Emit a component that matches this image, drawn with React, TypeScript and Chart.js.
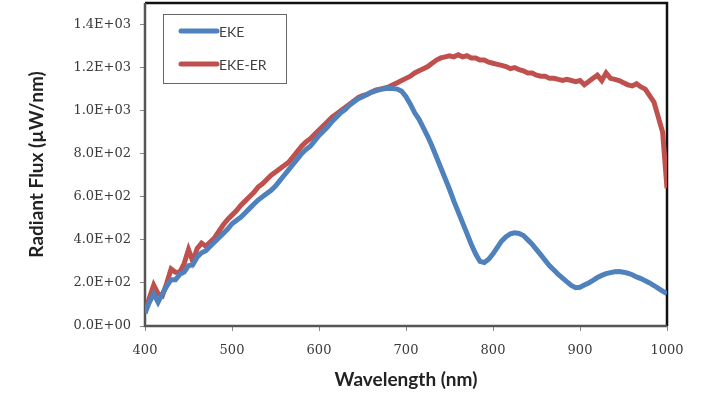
import React, { useEffect, useRef } from "react";
import { Chart, registerables } from "chart.js";

Chart.register(...registerables);

const wavelengths: number[] = [];
for (let w = 400; w <= 1000; w += 5) wavelengths.push(w);

const ekeValues = [
  60, 110, 150, 110, 150, 185, 215, 215, 240, 250,
  280, 285, 320, 340, 350, 370, 390, 410, 430, 450,
  475, 490, 505, 525, 545, 565, 585, 600, 615, 630,
  650, 675, 700, 725, 750, 775, 800, 820, 835, 860,
  885, 905, 925, 950, 970, 990, 1005, 1025, 1040, 1055,
  1065, 1075, 1085, 1092, 1098, 1102, 1104, 1103, 1100, 1090,
  1065, 1030, 990, 960, 920, 880, 835, 785, 735, 685,
  635, 580, 530, 480, 430, 380, 335, 300, 295, 310,
  335, 365, 395, 415, 428, 433, 430, 420, 400, 380,
  355, 330, 305, 280, 260, 240, 222, 205, 188, 178,
  180, 190, 200, 212, 225, 235, 243, 248, 252, 253,
  250, 245, 238, 228, 220, 210, 200, 188, 175, 162,
  150,
];

const ekeErValues = [
  60, 130, 190, 150, 140, 200, 265, 250, 250, 290,
  355, 300, 360, 385, 370, 390, 410, 440, 470, 495,
  515, 535, 560, 580, 600, 620, 645, 660, 680, 700,
  715, 730, 745, 760, 785, 810, 835, 855, 870, 890,
  910, 930, 950, 970, 985, 1000, 1015, 1030, 1045, 1060,
  1070, 1075, 1085, 1095, 1100, 1105, 1110, 1120, 1130, 1140,
  1150, 1160, 1175, 1185, 1195, 1205, 1220, 1235, 1245, 1250,
  1255, 1250, 1260, 1250, 1255, 1245, 1245, 1235, 1235, 1225,
  1220, 1215, 1210, 1205, 1195, 1200, 1190, 1185, 1175, 1175,
  1165, 1160, 1160, 1150, 1150, 1145, 1140, 1145, 1140, 1135,
  1140, 1120, 1135, 1150, 1165, 1140, 1175, 1150, 1145, 1140,
  1130, 1120, 1115, 1125, 1110, 1100, 1070, 1040, 970, 900,
  640,
];

const seriesLabels = ["EKE", "EKE-ER"];
const seriesColors = ["#4F81BD", "#C0504D"];
const xTickValues = [400, 500, 600, 700, 800, 900, 1000];
const yTickValues = [0, 200, 400, 600, 800, 1000, 1200, 1400];

function sci(v: number): string {
  const [m, e] = v.toExponential(1).split("e");
  const sign = e.startsWith("-") ? "-" : "+";
  const digits = e.replace(/[+-]/, "").padStart(2, "0");
  return `${m}E${sign}${digits}`;
}

const framePlugin = {
  id: "frame",
  beforeDatasetsDraw(chart: any) {
    const { ctx, chartArea: a } = chart;
    ctx.save();
    ctx.lineWidth = 2.5;
    ctx.strokeStyle = "#111";
    ctx.beginPath();
    ctx.moveTo(a.left, a.top);
    ctx.lineTo(a.right, a.top);
    ctx.lineTo(a.right, a.bottom);
    ctx.stroke();
    ctx.strokeStyle = "#555";
    ctx.beginPath();
    ctx.moveTo(a.right, a.bottom);
    ctx.lineTo(a.left, a.bottom);
    ctx.lineTo(a.left, a.top);
    ctx.stroke();
    ctx.restore();
  },
};

const legendPlugin = {
  id: "boxLegend",
  afterDatasetsDraw(chart: any) {
    const { ctx } = chart;
    const x = 163, y = 14, w = 123, h = 69;
    ctx.save();
    ctx.fillStyle = "#fff";
    ctx.fillRect(x, y, w, h);
    ctx.strokeStyle = "#666";
    ctx.lineWidth = 1;
    ctx.strokeRect(x + 0.5, y + 0.5, w, h);
    chart.data.datasets.forEach((ds: any, i: number) => {
      const ly = y + 17 + i * 33;
      ctx.strokeStyle = ds.borderColor;
      ctx.lineWidth = 5;
      ctx.lineCap = "round";
      ctx.beginPath();
      ctx.moveTo(x + 18, ly);
      ctx.lineTo(x + 54, ly);
      ctx.stroke();
      ctx.fillStyle = "#404040";
      ctx.font = "14px Lato";
      ctx.textBaseline = "middle";
      ctx.fillText(ds.label, x + 56, ly + 1);
    });
    ctx.restore();
  },
};

export default function App() {
  const ref = useRef<HTMLCanvasElement>(null);
  useEffect(() => {
    if (!ref.current) return;
    const chart = new Chart(ref.current, {
      type: "line",
      data: {
        datasets: [
          {
            label: seriesLabels[0],
            data: wavelengths.map((w, i) => ({ x: w, y: ekeValues[i] })),
            borderColor: seriesColors[0],
            borderWidth: 5,
            pointRadius: 0,
            tension: 0,
          },
          {
            label: seriesLabels[1],
            data: wavelengths.map((w, i) => ({ x: w, y: ekeErValues[i] })),
            borderColor: seriesColors[1],
            borderWidth: 5,
            pointRadius: 0,
            tension: 0,
          },
        ],
      },
      options: {
        animation: false,
        responsive: false,
        maintainAspectRatio: false,
        layout: { padding: { top: 3, right: 43, left: 0, bottom: 0 } },
        plugins: { legend: { display: false }, tooltip: { enabled: false } },
        scales: {
          x: {
            type: "linear",
            min: 400,
            max: 1000,
            afterFit: (s: any) => { s.height = 73; s.paddingLeft = 0; s.paddingRight = 0; },
            afterBuildTicks: (s: any) => { s.ticks = xTickValues.map((v) => ({ value: v })); },
            grid: { drawOnChartArea: false, drawTicks: true, tickLength: 5, color: "#888" },
            border: { display: false },
            ticks: {
              padding: 12,
              color: "#3a3a3a",
              font: { family: "DejaVu Serif", size: 13 },
              callback: (v: any) => String(v),
            },
            title: {
              display: true,
              text: "Wavelength (nm)",
              color: "#222",
              font: { family: "Lato", size: 19, weight: "bold" },
              padding: { top: 0, bottom: 8 },
            },
          },
          y: {
            type: "linear",
            min: 0,
            max: 1500,
            afterFit: (s: any) => { s.width = 145; s.paddingTop = 0; s.paddingBottom = 0; },
            afterBuildTicks: (s: any) => { s.ticks = yTickValues.map((v) => ({ value: v })); },
            grid: { drawOnChartArea: false, drawTicks: true, tickLength: 5, color: "#888" },
            border: { display: false },
            ticks: {
              padding: 9,
              color: "#3a3a3a",
              font: { family: "DejaVu Serif", size: 13 },
              callback: (v: any) => sci(Number(v)),
            },
            title: {
              display: true,
              text: "Radiant Flux (µW/nm)",
              color: "#222",
              font: { family: "Lato", size: 19, weight: "bold" },
              padding: { top: 25, bottom: 0 },
            },
          },
        },
      },
      plugins: [framePlugin, legendPlugin],
    } as any);
    return () => chart.destroy();
  }, []);
  return (
    <div style={{ position: "fixed", left: 0, top: 0, width: 710, height: 399, background: "#fff" }}>
      <canvas ref={ref} width={710} height={399} style={{ width: 710, height: 399 }} />
    </div>
  );
}
